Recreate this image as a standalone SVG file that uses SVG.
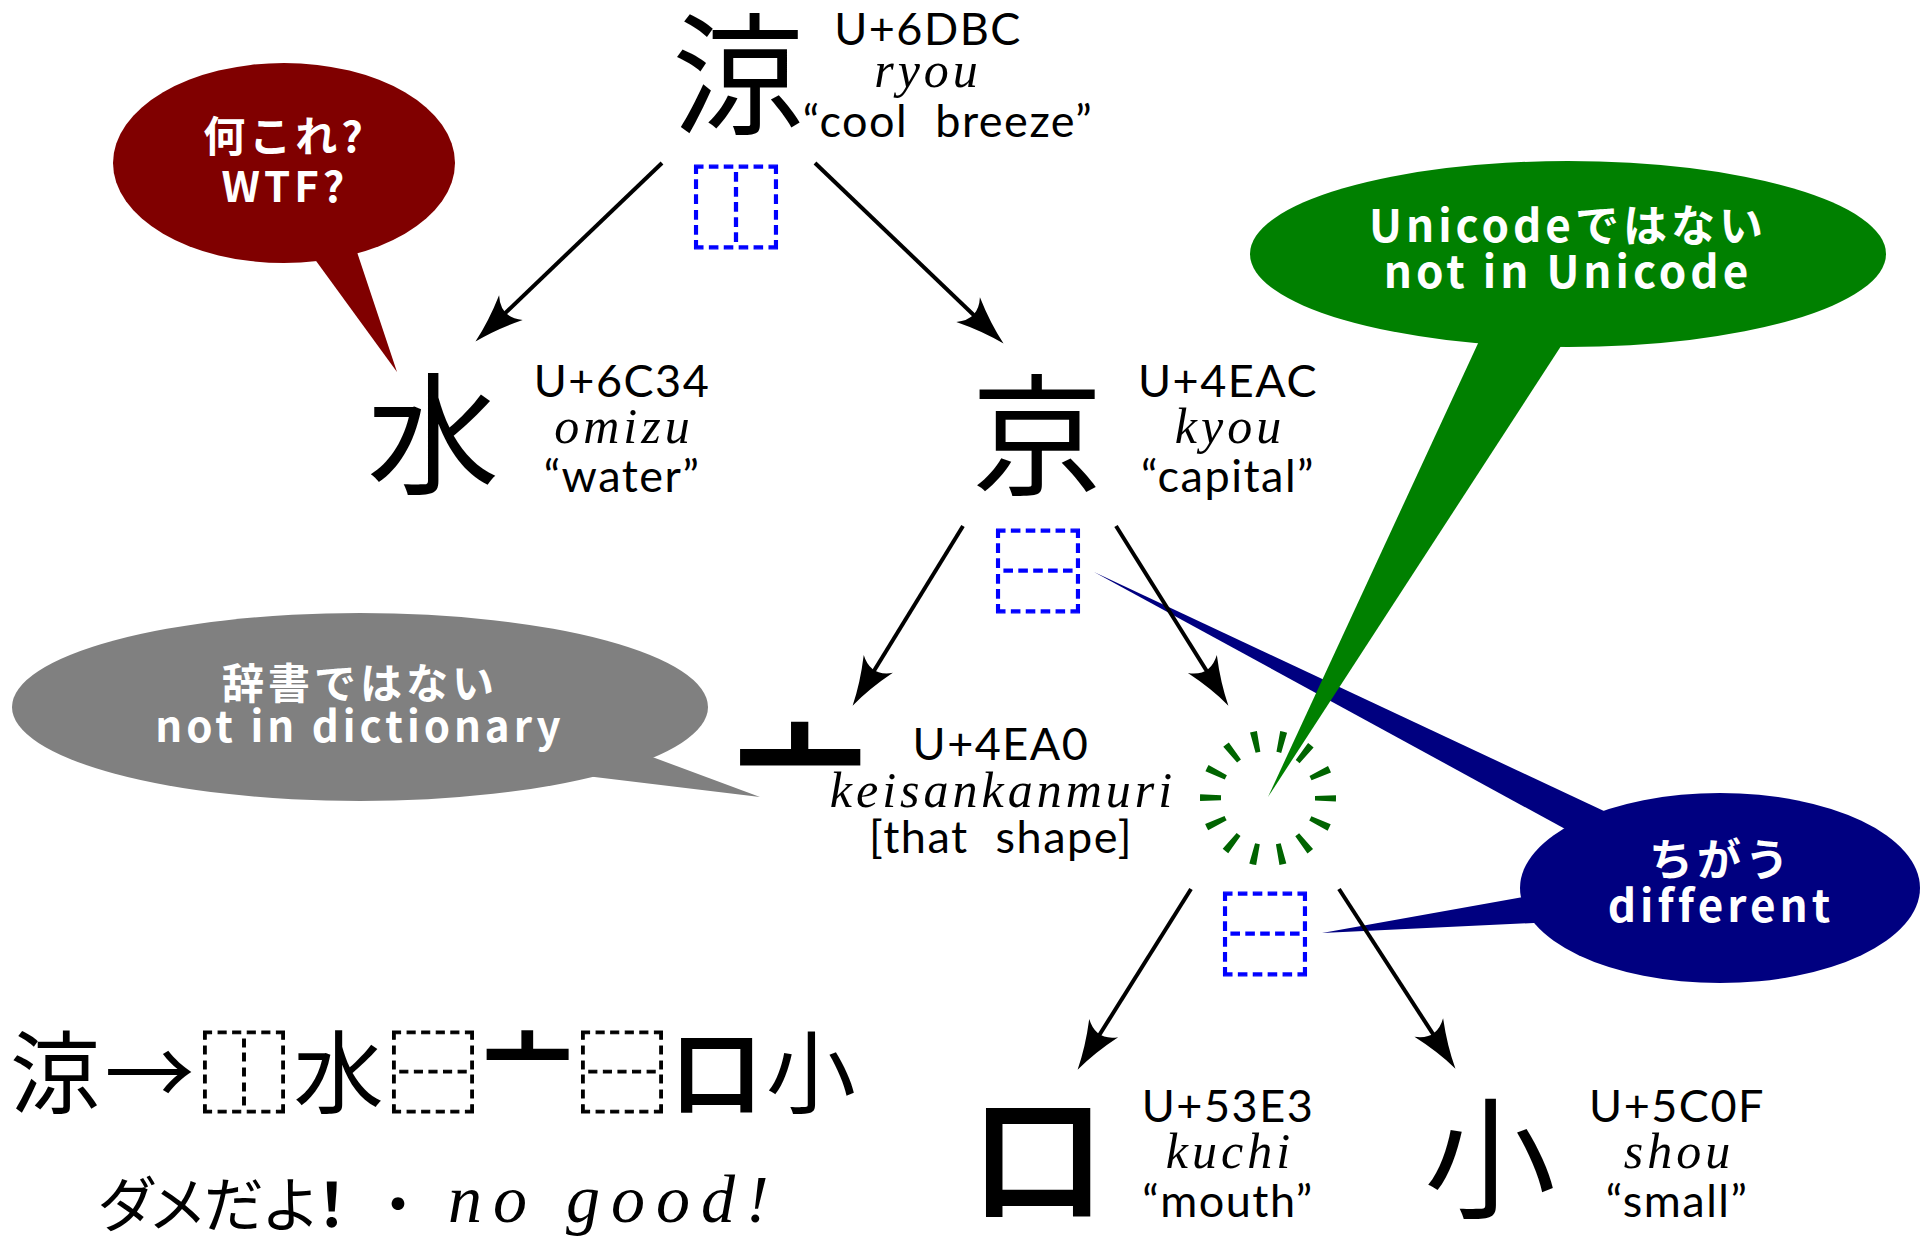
<svg xmlns="http://www.w3.org/2000/svg" width="1923" height="1243" viewBox="0 0 1923 1243">
<style>
.cjk{font-family:"Noto Sans CJK JP","Noto Sans CJK SC",sans-serif}
.big{font-family:"Noto Sans CJK JP","Noto Sans CJK SC",sans-serif;font-size:132px;text-anchor:middle;fill:#000}
.code{font-family:Lato,"Liberation Sans",sans-serif;font-size:45px;text-anchor:middle;fill:#000;letter-spacing:1.5px;word-spacing:14px}
.rom{font-family:"Liberation Serif",serif;font-style:italic;font-size:50px;letter-spacing:4px;text-anchor:middle;fill:#000}
.bub{font-family:"Noto Sans CJK JP","Noto Sans CJK SC",sans-serif;font-weight:bold;fill:#fff;text-anchor:middle;letter-spacing:4px}
.ids{font-family:"Noto Sans CJK JP","Noto Sans CJK SC",sans-serif;font-size:92px;fill:#0000ff;stroke:#0000ff;stroke-width:1.3px;text-anchor:middle}
.idsb{stroke:#000;stroke-width:1px}
.arrow{stroke:#000;stroke-width:4;fill:none;marker-end:url(#stealth)}
</style>
<defs>
<marker id="stealth" markerUnits="userSpaceOnUse" orient="auto" refX="0" refY="0" markerWidth="80" markerHeight="80" viewBox="-50 -25 75 50" overflow="visible">
<path d="M12,0 Q-10,-5 -34,-16 Q-20,0 -34,16 Q-10,5 12,0 Z" fill="#000"/>
</marker>
</defs>
<rect width="1923" height="1243" fill="#fff"/>

<g id="bubble-blue">
<polygon points="1094,572 1653,834 1611,854" fill="#000080"/>
<polygon points="1322,933 1540,894 1553,922" fill="#000080"/>
<ellipse cx="1720" cy="888" rx="200" ry="95" fill="#000080"/>
<text class="bub" x="1721" y="876" font-size="44">ちがう</text>
<text class="bub" x="1721" y="922" font-size="44" letter-spacing="3">different</text>
</g>
<g id="bubble-green">
<polygon points="1268,797 1499,298 1589,303" fill="#008000"/>
<ellipse cx="1568" cy="254" rx="318" ry="93" fill="#008000"/>
<text class="bub" x="1568" y="242" font-size="44" letter-spacing="2.5">Unicodeではない</text>
<text class="bub" x="1568" y="288" font-size="44" letter-spacing="3">not in Unicode</text>
</g>
<g id="bubble-red">
<polygon points="397,372 303,243 353,240" fill="#800000"/>
<ellipse cx="284" cy="163" rx="171" ry="100" fill="#800000"/>
<text class="bub" x="285" y="152" font-size="42">何これ?</text>
<text class="bub" x="285" y="202" font-size="42">WTF?</text>
</g>
<g id="bubble-gray">
<polygon points="760,797 620,745 578,775" fill="#808080"/>
<ellipse cx="360" cy="707" rx="348" ry="94" fill="#808080"/>
<text class="bub" x="360" y="699" font-size="42">辞書ではない</text>
<text class="bub" x="360" y="742" font-size="42" letter-spacing="4.5">not in dictionary</text>
</g>

<g id="connectors">
<line class="arrow" x1="662" y1="163" x2="484.7" y2="332.7"/>
<line class="arrow" x1="815" y1="163" x2="994.3" y2="334.7"/>
<line class="arrow" x1="963" y1="526" x2="859.3" y2="694.8"/>
<line class="arrow" x1="1116" y1="526" x2="1221.6" y2="694.8"/>
<line class="arrow" x1="1191" y1="889" x2="1084.4" y2="1058.8"/>
<line class="arrow" x1="1339" y1="889" x2="1448.5" y2="1057.9"/>
</g>

<g id="node-ryou">
<text class="big" x="738" y="124">涼</text>
<text class="code" x="928" y="45">U+6DBC</text>
<text class="rom" x="928" y="87">ryou</text>
<text class="code" x="948" y="137">“cool breeze”</text>
<text class="ids" x="736" y="242">⿰</text>
</g>
<g id="node-mizu">
<text class="big" x="433" y="484">水</text>
<text class="code" x="622" y="397">U+6C34</text>
<text class="rom" x="624" y="443">omizu</text>
<text class="code" x="622" y="492">“water”</text>
</g>
<g id="node-kyou">
<text class="big" x="1037" y="485">京</text>
<text class="code" x="1228" y="397">U+4EAC</text>
<text class="rom" x="1230" y="443">kyou</text>
<text class="code" x="1228" y="492">“capital”</text>
<text class="ids" x="1038" y="606">⿱</text>
</g>
<g id="node-keisankanmuri">
<text class="big" x="800" y="811" font-weight="bold" font-size="92">亠</text>
<text class="code" x="1001" y="760">U+4EA0</text>
<text class="rom" x="1003" y="807">keisankanmuri</text>
<text class="code" x="1001" y="853" letter-spacing="3.5">[that shape]</text>
</g>
<g id="node-unknown">
<circle cx="1268" cy="798" r="57.5" fill="none" stroke="#006400" stroke-width="21" stroke-dasharray="6 19.81" stroke-dashoffset="3"/>
<text class="ids" x="1265" y="969">⿱</text>
</g>
<g id="node-kuchi">
<text class="big" x="1038" y="1207" font-weight="bold">口</text>
<text class="code" x="1228" y="1122">U+53E3</text>
<text class="rom" x="1230" y="1168">kuchi</text>
<text class="code" x="1228" y="1217">“mouth”</text>
</g>
<g id="node-shou">
<text class="big" x="1490" y="1208">小</text>
<text class="code" x="1677" y="1122">U+5C0F</text>
<text class="rom" x="1679" y="1168">shou</text>
<text class="code" x="1677" y="1217">“small”</text>
</g>

<g id="summary">
<text class="cjk" x="10" y="1106" font-size="90" letter-spacing="4.5">涼→<tspan class="idsb">⿰</tspan>水<tspan class="idsb">⿱</tspan><tspan font-weight="bold" dy="-15">亠</tspan><tspan class="idsb" dy="15">⿱</tspan><tspan font-weight="bold">口</tspan>小</text>
<text class="cjk" x="98" y="1227" font-size="60" style="font-feature-settings:'palt'">ダメだよ<tspan font-weight="bold">！</tspan><tspan x="383">・</tspan></text>
<text x="448" y="1222" font-family="Liberation Serif, serif" font-style="italic" font-size="68" letter-spacing="11">no good!</text>
</g>
</svg>
